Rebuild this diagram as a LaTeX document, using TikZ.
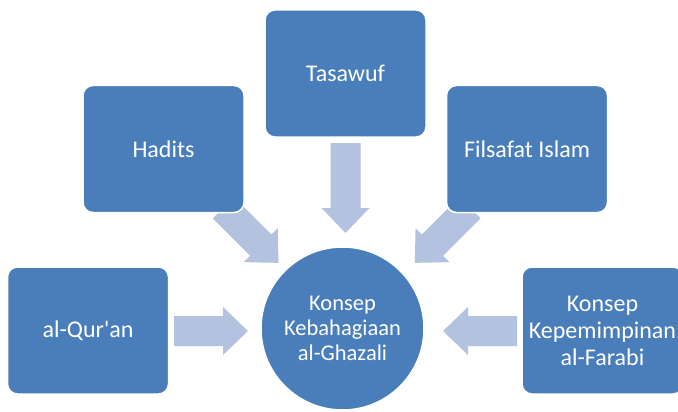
\documentclass[tikz,border=0pt]{standalone}
\usepackage{fontspec}
\setmainfont{Carlito}[Ligatures=TeXOff]

\definecolor{boxblue}{HTML}{4A7EBB}
\definecolor{arrowblue}{HTML}{B3C2DE}

\tikzset{
  card/.style={rectangle, rounded corners=10pt, fill=boxblue, draw=white,
    line width=1.5pt, minimum width=161pt, minimum height=127pt,
    text=white, font=\fontsize{24}{27}\selectfont, align=center, inner sep=0pt},
  hub/.style={circle, fill=boxblue, draw=white, line width=1.5pt,
    minimum size=163pt, text=white, font=\fontsize{22.5}{25}\selectfont,
    align=center, inner sep=0pt},
  flow/.style={fill=arrowblue},
}

% block arrow: tail point, direction (degrees), total length
\newcommand\blockarrow[3]{%
  \fill[flow, shift={(#1)}, rotate=#2]
    (0,-15) -- ({#3-25},-15) -- ({#3-25},-24) -- (#3,0)
    -- ({#3-25},24) -- ({#3-25},15) -- (0,15) -- cycle;}

\begin{document}
\begin{tikzpicture}[x=1pt, y=-1pt]
  \useasboundingbox (0,0) rectangle (678,412);
  \clip (0,0) rectangle (678,412);

  % arrow tails
  \coordinate (fromquran)    at (174,331);
  \coordinate (fromfarabi)   at (517,331);
  \coordinate (fromtasawuf)  at (345.5,143);
  \coordinate (fromhadits)   at (223.3,207.7);
  \coordinate (fromfilsafat) at (470,207.7);

  \blockarrow{fromquran}{0}{74}
  \blockarrow{fromfarabi}{180}{74}
  \blockarrow{fromtasawuf}{-90}{90}
  \blockarrow{fromhadits}{-45}{78}
  \blockarrow{fromfilsafat}{-135}{78}

  % source boxes
  \node[card] (tasawuf)  at (345.5,73.5) {Tasawuf};
  \node[card] (hadits)   at (163.5,149)  {Hadits};
  \node[card] (filsafat) at (527,149)    {Filsafat Islam};
  \node[card] (quran)    at (88,330.5)   {al-Qur'an};
  \node[card] (farabi)   at (602.5,330.5) {Konsep\\Kepemimpinan\\al-Farabi};

  % central concept
  \node[hub] (ghazali) at (342.5,328.5) {Konsep\\Kebahagiaan\\al-Ghazali};
\end{tikzpicture}
\end{document}
